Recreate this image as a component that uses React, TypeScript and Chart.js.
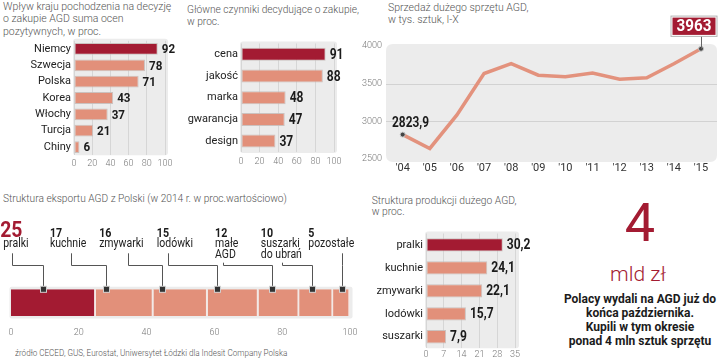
import React, { useEffect, useRef } from 'react';
import { Chart, registerables } from 'chart.js';
Chart.register(...registerables);

// ---------- data ----------
const countries = ['Niemcy', 'Szwecja', 'Polska', 'Korea', 'Włochy', 'Turcja', 'Chiny'];
const countryScores = [92, 78, 71, 43, 37, 21, 6];

const factors = ['cena', 'jakość', 'marka', 'gwarancja', 'design'];
const factorScores = [91, 88, 48, 47, 37];

const years = ["'04", "'05", "'06", "'07", "'08", "'09", "'10", "'11", "'12", "'13", "'14", "'15"];
const sales = [2823.9, 2640, 3085, 3635, 3765, 3612, 3593, 3640, 3560, 3578, 3765, 3963];
const salesGrid = [3000, 3500];

const exportCats = ['pralki', 'kuchnie', 'zmywarki', 'lodówki', 'małe AGD', 'suszarki do ubrań', 'pozostałe'];
const exportLabelLines = [['pralki'], ['kuchnie'], ['zmywarki'], ['lodówki'], ['małe', 'AGD'], ['suszarki', 'do ubrań'], ['pozostałe']];
const exportShares = [25, 17, 16, 15, 12, 10, 5];
// annotation anchors (in axis units)
const exportLabelAt = [-2.3, 11.5, 26, 43, 60.2, 73.7, 87.7];
const exportElbowAt = [0.2, 17.7, 34.6, 46.4, 62.6, 79.9, 97.5];
const exportMarkerAt = [9.5, 28, 44.6, 60.7, 76.9, 88.9, 97.5];

const prodCats = ['pralki', 'kuchnie', 'zmywarki', 'lodówki', 'suszarki'];
const prodShares = [30.2, 24.1, 22.1, 15.7, 7.9];

// ---------- styles ----------
const RED = '#a31b32';
const SALMON = '#e2907a';
const PANEL = '#ececec';
const SANS = "Roboto, 'Noto Sans', sans-serif";

const plFmt = (v: number) => String(v).replace('.', ',');

function drawText(ctx: CanvasRenderingContext2D, text: string, x: number, y: number, font: string, sx: number, color: string, align: CanvasTextAlign = 'left', baseline: CanvasTextBaseline = 'alphabetic') {
  ctx.save();
  ctx.translate(x, y);
  ctx.scale(sx, 1);
  ctx.font = font;
  ctx.fillStyle = color;
  ctx.textAlign = align;
  ctx.textBaseline = baseline;
  ctx.fillText(text, 0, 0);
  ctx.restore();
}

function roundRect(ctx: CanvasRenderingContext2D, x: number, y: number, w: number, h: number, r: number) {
  ctx.beginPath();
  ctx.moveTo(x + r, y);
  ctx.lineTo(x + w - r, y);
  ctx.quadraticCurveTo(x + w, y, x + w, y + r);
  ctx.lineTo(x + w, y + h - r);
  ctx.quadraticCurveTo(x + w, y + h, x + w - r, y + h);
  ctx.lineTo(x + r, y + h);
  ctx.quadraticCurveTo(x, y + h, x, y + h - r);
  ctx.lineTo(x, y + r);
  ctx.quadraticCurveTo(x, y, x + r, y);
  ctx.closePath();
}

const fixSize = (w?: number, h?: number) => (s: any) => {
  if (w !== undefined) s.width = w;
  if (h !== undefined) s.height = h;
  s.paddingTop = 0;
  s.paddingBottom = 0;
  s.paddingLeft = 0;
  s.paddingRight = 0;
};

const panelPlugin = (ext: { l: number; r: number; t: number; b: number }, radius = 3) => ({
  id: 'panel',
  beforeDraw(chart: any) {
    const { ctx, chartArea: a } = chart;
    ctx.save();
    ctx.fillStyle = PANEL;
    roundRect(ctx, a.left - ext.l, a.top - ext.t, a.right - a.left + ext.l + ext.r, a.bottom - a.top + ext.t + ext.b, radius);
    ctx.fill();
    ctx.restore();
  },
});

const valueLabelPlugin = (fmt: (v: number) => string, size: number) => ({
  id: 'valueLabels',
  afterDatasetsDraw(chart: any) {
    const ctx = chart.ctx;
    const meta = chart.getDatasetMeta(0);
    const data = chart.data.datasets[0].data;
    meta.data.forEach((el: any, i: number) =>
      drawText(ctx, fmt(data[i]), el.x + 4, el.y + 1, `bold ${size}px ${SANS}`, 0.86, '#1b1b1b', 'left', 'middle')
    );
  },
});

function hbarConfig(o: any) {
  return {
    type: 'bar',
    data: {
      labels: o.labels,
      datasets: [
        {
          data: o.values,
          backgroundColor: o.values.map((_: number, i: number) => (i === 0 ? RED : SALMON)),
          borderColor: 'rgba(200,190,186,0.9)',
          borderWidth: 1,
          borderSkipped: false,
          barPercentage: o.barPct,
          categoryPercentage: 1,
        },
      ],
    },
    options: {
      indexAxis: 'y',
      responsive: false,
      animation: false,
      events: [],
      layout: { padding: o.pad },
      plugins: { legend: { display: false }, tooltip: { enabled: false } },
      scales: {
        x: {
          min: 0,
          max: o.max,
          ticks: { stepSize: o.step, padding: o.tickPad, maxRotation: 0, minRotation: 0, autoSkip: false, color: '#777', font: { family: SANS, size: 9, weight: 300 } },
          grid: { color: '#d6d6d6', drawTicks: false },
          border: { display: false },
          afterFit: fixSize(undefined, o.xAxisH),
        },
        y: {
          ticks: { padding: 3, autoSkip: false, color: '#222', font: { family: SANS, size: o.labelSize } },
          grid: { display: false, drawTicks: false },
          border: { display: false },
          afterFit: fixSize(o.axisW, undefined),
        },
      },
    },
    plugins: [panelPlugin(o.panelExt), valueLabelPlugin(o.fmt, o.valueSize)],
  };
}

function lineConfig() {
  const last = sales.length - 1;
  return {
    type: 'line',
    data: {
      labels: years,
      datasets: [
        {
          data: sales,
          borderColor: '#e3927d',
          borderWidth: 3.5,
          tension: 0,
          clip: false,
          pointRadius: sales.map((_, i) => (i === 0 || i === last ? 2.5 : 0)),
          pointBackgroundColor: '#444',
          pointBorderColor: '#c8c8c8',
          pointBorderWidth: 1,
        },
      ],
    },
    options: {
      responsive: false,
      animation: false,
      events: [],
      layout: { padding: { top: 46, right: 19, bottom: 0, left: 0 } },
      plugins: { legend: { display: false }, tooltip: { enabled: false } },
      scales: {
        x: {
          type: 'category',
          offset: false,
          ticks: { padding: 2.2, maxRotation: 0, autoSkip: false, color: '#333', font: { family: SANS, size: 11 } },
          grid: { display: false, drawTicks: false },
          border: { display: false },
          afterFit: fixSize(undefined, 17),
        },
        y: {
          min: 2500,
          max: 4000,
          ticks: { stepSize: 500, padding: 20.7, callback: (v: any) => String(v), color: '#777', font: { family: SANS, size: 9, weight: 300 } },
          grid: { display: false, drawTicks: false },
          border: { display: false },
          afterFit: fixSize(47.7, undefined),
        },
      },
    },
    plugins: [
      {
        id: 'linePanel',
        beforeDraw(chart: any) {
          const { ctx, chartArea: a, scales } = chart;
          ctx.save();
          ctx.fillStyle = PANEL;
          roundRect(ctx, a.left - 16.7, a.top - 2, a.right - a.left + 32.7, a.bottom - a.top + 5, 7);
          ctx.fill();
          ctx.strokeStyle = '#d2d2d2';
          ctx.lineWidth = 1;
          salesGrid.forEach((v) => {
            const y = Math.round(scales.y.getPixelForValue(v)) + 0.5;
            ctx.beginPath();
            ctx.moveTo(a.left - 16.7, y);
            ctx.lineTo(a.right + 16, y);
            ctx.stroke();
          });
          ctx.restore();
        },
      },
      {
        id: 'lineNotes',
        afterDraw(chart: any) {
          const { ctx } = chart;
          const pts = chart.getDatasetMeta(0).data;
          const p0 = pts[0];
          const pN = pts[pts.length - 1];
          drawText(ctx, plFmt(sales[0]), p0.x - 10.7, p0.y - 7.6, `bold 14px ${SANS}`, 0.85, '#1b1b1b');
          const bl = pN.x - 29;
          const bt = pN.y - 31.7;
          const bw = 44;
          const bh = 18.3;
          ctx.save();
          ctx.strokeStyle = '#666';
          ctx.lineWidth = 1;
          ctx.beginPath();
          ctx.moveTo(Math.round(pN.x) + 0.5, bt + bh);
          ctx.lineTo(Math.round(pN.x) + 0.5, pN.y);
          ctx.stroke();
          ctx.fillStyle = '#b5b5b5';
          ctx.fillRect(bl - 1.5, bt - 1.5, bw + 3, bh + 3);
          ctx.fillStyle = '#fff';
          ctx.fillRect(bl - 0.5, bt - 0.5, bw + 1, bh + 1);
          ctx.fillStyle = RED;
          ctx.fillRect(bl + 0.5, bt + 0.5, bw - 1, bh - 1);
          ctx.restore();
          drawText(ctx, String(sales[sales.length - 1]), bl + bw / 2, bt + bh / 2 + 1, `bold 16px ${SANS}`, 0.95, '#fff', 'center', 'middle');
        },
      },
    ],
  };
}

function exportConfig() {
  return {
    type: 'bar',
    data: {
      labels: [''],
      datasets: exportShares.map((v, i) => ({
        label: exportCats[i],
        data: [v],
        backgroundColor: i === 0 ? RED : SALMON,
        borderColor: '#f3e9e6',
        borderWidth: { top: 0, left: 0, bottom: 0, right: 2 },
        borderSkipped: false,
        barPercentage: 1,
        categoryPercentage: 1,
      })),
    },
    options: {
      indexAxis: 'y',
      responsive: false,
      animation: false,
      events: [],
      layout: { padding: { top: 69.3, right: 10, bottom: 9, left: 11 } },
      plugins: { legend: { display: false }, tooltip: { enabled: false } },
      scales: {
        x: {
          stacked: true,
          min: 0,
          max: 100,
          ticks: { stepSize: 20, padding: 11.2, maxRotation: 0, autoSkip: false, color: '#777', font: { family: SANS, size: 9, weight: 300 } },
          grid: { display: false, drawTicks: false },
          border: { display: false },
          afterFit: fixSize(undefined, 20),
        },
        y: { stacked: true, display: false },
      },
    },
    plugins: [
      panelPlugin({ l: 1.5, r: 2.5, t: 2.5, b: 2.5 }, 2),
      {
        id: 'exportNotes',
        afterDatasetsDraw(chart: any) {
          const { ctx, chartArea: a, scales } = chart;
          const xs = scales.x;
          const top = a.top;
          exportShares.forEach((v, i) => {
            const lx = xs.getPixelForValue(exportLabelAt[i]);
            const ex = Math.round(xs.getPixelForValue(exportElbowAt[i])) + 0.5;
            const mx = Math.round(xs.getPixelForValue(exportMarkerAt[i])) + 0.5;
            const lines = exportLabelLines[i];
            if (i === 0) {
              drawText(ctx, String(v), lx - 3, top - 52.8, `bold 22.5px ${SANS}`, 0.86, RED);
            } else {
              drawText(ctx, String(v), lx, top - 52.5, `bold 13px ${SANS}`, 0.82, '#1b1b1b');
            }
            lines.forEach((t, k) => drawText(ctx, t, lx, top - 42.6 + k * 11.6, `12.5px ${SANS}`, 0.84, '#222'));
            const startY = lines.length > 1 ? top - 26.6 : top - 36;
            const hY = Math.round(top - 24.3) + 0.5;
            ctx.save();
            ctx.strokeStyle = '#555';
            ctx.lineWidth = 1;
            ctx.beginPath();
            ctx.moveTo(ex, startY);
            ctx.lineTo(ex, hY);
            ctx.lineTo(mx, hY);
            ctx.lineTo(mx, top);
            ctx.stroke();
            ctx.restore();
          });
          ctx.save();
          exportMarkerAt.forEach((m) => {
            const mx = Math.round(xs.getPixelForValue(m)) + 0.5;
            ctx.fillStyle = '#d0d0d0';
            ctx.fillRect(mx - 3.5, top - 3.5, 7, 7);
            ctx.fillStyle = '#333';
            ctx.fillRect(mx - 2.5, top - 2.5, 5, 5);
          });
          ctx.restore();
        },
      },
    ],
  };
}

function ChartCanvas(props: { left: number; top: number; width: number; height: number; make: () => any }) {
  const ref = useRef<HTMLCanvasElement>(null);
  useEffect(() => {
    const chart = new Chart(ref.current as HTMLCanvasElement, props.make());
    return () => chart.destroy();
  }, []);
  return (
    <canvas
      ref={ref}
      width={props.width}
      height={props.height}
      style={{ position: 'absolute', left: props.left, top: props.top, width: props.width, height: props.height }}
    />
  );
}

function Text(props: { left: number; top: number; lines: string[]; size: number; lh: number; color?: string; weight?: number; align?: string; width?: number; sx?: number }) {
  return (
    <div
      style={{
        position: 'absolute',
        left: props.left,
        top: props.top,
        width: props.width,
        fontFamily: SANS,
        fontSize: props.size,
        lineHeight: props.lh + 'px',
        color: props.color || '#555',
        fontWeight: props.weight || 300,
        textAlign: (props.align as any) || 'left',
        whiteSpace: 'pre',
        transform: props.sx ? `scaleX(${props.sx})` : undefined,
        transformOrigin: 'left top',
      }}
    >
      {props.lines.map((l, i) => (
        <div key={i}>{l}</div>
      ))}
    </div>
  );
}

export default function App() {
  return (
    <div style={{ position: 'absolute', left: 0, top: 0, width: 720, height: 364, background: '#fff', overflow: 'hidden' }}>
      <Text left={3} top={0.5} size={10.5} lh={12.5} lines={['Wpływ kraju pochodzenia na decyzję', 'o zakupie AGD suma ocen', 'pozytywnych, w proc.']} />
      <Text left={187} top={4} size={10.2} lh={12} lines={['Główne czynniki decydujące o zakupie,', 'w proc.']} />
      <Text left={388} top={2.4} size={10.5} lh={11.7} lines={['Sprzedaż dużego sprzętu AGD,', 'w tys. sztuk, I-X']} />
      <Text left={3} top={193} size={10.2} lh={12} lines={['Struktura eksportu AGD z Polski (w 2014 r. w proc.wartościowo)']} />
      <Text left={371.7} top={194.8} size={10.3} lh={11.6} lines={['Struktura produkcji dużego AGD,', 'w proc.']} />
      <Text left={15} top={347.7} size={9} lh={10} sx={0.9} lines={['źródło CECED, GUS, Eurostat, Uniwersytet Łódzki dla Indesit Company Polska']} />

      <ChartCanvas
        left={0}
        top={36}
        width={180}
        height={136}
        make={() =>
          hbarConfig({
            labels: countries,
            values: countryScores,
            max: 100,
            step: 20,
            axisW: 74,
            pad: { top: 4.8, right: 15, bottom: 4.8, left: 0 },
            xAxisH: 12,
            tickPad: 3.3,
            barPct: 0.72,
            fmt: plFmt,
            labelSize: 11,
            valueSize: 13.5,
            panelExt: { l: 1, r: 3, t: 2, b: 0 },
          })
        }
      />
      <ChartCanvas
        left={180}
        top={36}
        width={190}
        height={136}
        make={() =>
          hbarConfig({
            labels: factors,
            values: factorScores,
            max: 100,
            step: 20,
            axisW: 61,
            pad: { top: 7.5, right: 36, bottom: 8.1, left: 0 },
            xAxisH: 12,
            tickPad: 4.6,
            barPct: 0.6,
            fmt: plFmt,
            labelSize: 11,
            valueSize: 14,
            panelExt: { l: 1, r: 3, t: 2, b: 1 },
          })
        }
      />
      <ChartCanvas left={355} top={0} width={365} height={176} make={lineConfig} />
      <ChartCanvas left={0} top={220} width={360} height={125} make={exportConfig} />
      <ChartCanvas
        left={360}
        top={225}
        width={180}
        height={139}
        make={() =>
          hbarConfig({
            labels: prodCats,
            values: prodShares,
            max: 35,
            step: 7,
            axisW: 66,
            pad: { top: 8.5, right: 25, bottom: 3.8, left: 0 },
            xAxisH: 12,
            tickPad: 1.3,
            barPct: 0.58,
            fmt: plFmt,
            labelSize: 11,
            valueSize: 14,
            panelExt: { l: 1, r: 4, t: 2, b: 0 },
          })
        }
      />

      <div style={{ position: 'absolute', left: 555, top: 196, width: 170, textAlign: 'center', fontFamily: SANS, fontWeight: 400, fontSize: 54, lineHeight: '54px', color: RED }}>4</div>
      <div style={{ position: 'absolute', left: 553, top: 262, width: 170, textAlign: 'center', fontFamily: SANS, fontWeight: 300, fontSize: 21, lineHeight: '24px', color: RED }}>mld zł</div>
      <Text
        left={555}
        top={292}
        width={170}
        align="center"
        size={12}
        lh={14}
        weight={700}
        color="#1b1b1b"
        lines={['Polacy wydali na AGD już do', 'końca października.', 'Kupili w tym okresie', 'ponad 4 mln sztuk sprzętu']}
      />
    </div>
  );
}
